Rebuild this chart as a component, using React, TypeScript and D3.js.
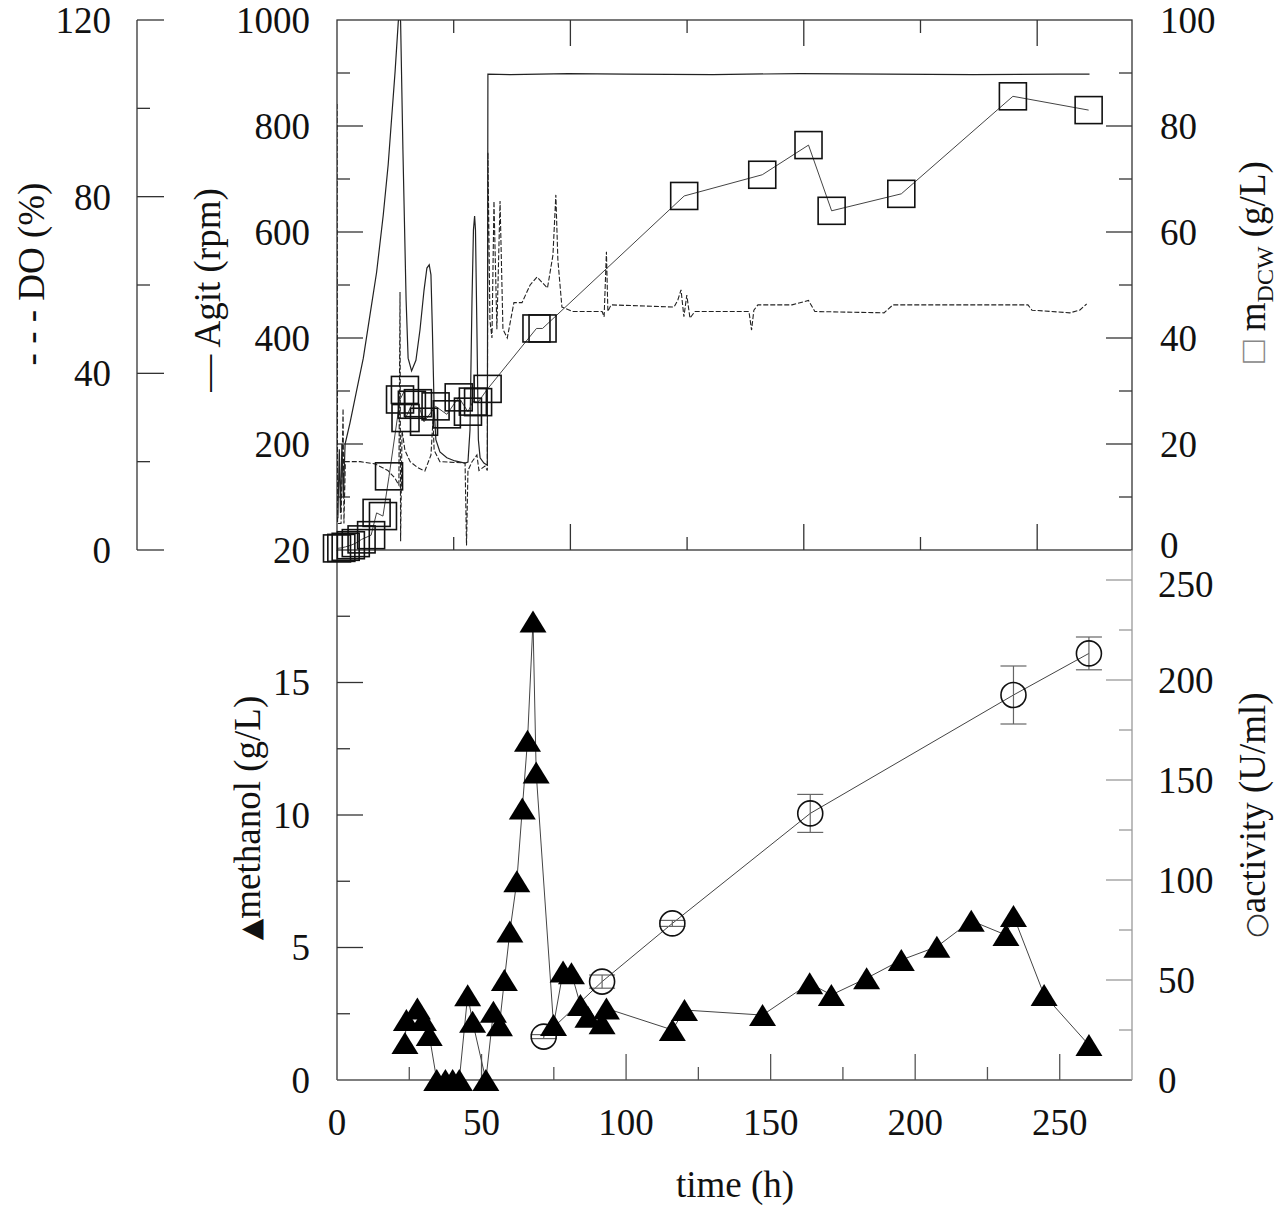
import React from 'react';
import * as d3 from 'd3';

// ---------------- DATA ----------------
// tick values
const xLabels = [0, 50, 100, 150, 200, 250];
const xMinor = [25, 75, 125, 175, 225, 275];
const topMajor = [80, 160, 240];
const topMinor = [40, 120, 200];
const doLabels = [0, 40, 80, 120];
const doMinor = [20, 60, 100];
const agitLabels = [200, 400, 600, 800, 1000];
const agitMinor = [100, 300, 500, 700, 900];
const dcwLabels = [0, 20, 40, 60, 80, 100];
const dcwMinor = [10, 30, 50, 70, 90];
const methLabels = [0, 5, 10, 15, 20];
const methMinor = [2.5, 7.5, 12.5, 17.5];
const actLabels = [0, 50, 100, 150, 200, 250];
const actMinor = [25, 75, 125, 175, 225];

// agitation (rpm), solid line
const agitTime = [0.3, 0.8, 1.2, 1.7, 2.2, 2.8, 4.5, 6.8, 9.1, 11.4, 13.7, 16, 17.7, 18.9, 20.1, 21.2, 21.6, 22, 22.8, 23.9, 24.6, 25.8, 27.3, 28.7, 30.1, 31.1, 31.9, 32.5, 33, 33.6, 34.2, 35.6, 38, 40.8, 44.3, 45.3, 46, 46.7, 47.2, 47.6, 47.9, 48.4, 48.9, 49.5, 50.8, 52.0, 52.2, 60, 80, 100, 130, 160, 190, 220, 250, 260.3];
const agitValue = [60, 190, 70, 200, 100, 200, 240, 301, 362, 443, 524, 632, 727, 815, 903, 997, 1010, 997, 755, 472, 362, 338, 358, 415, 490, 532, 538, 519, 415, 268, 208, 185, 174, 168, 164, 166, 226, 472, 604, 630, 604, 415, 208, 174, 164, 160, 898, 897, 899, 898, 897, 899, 898, 897, 898, 898];

// dissolved oxygen (%), dashed line
const doTime = [0, 0.2, 1.4, 2.1, 2.4, 2.9, 8, 13.1, 17.6, 20, 21.4, 21.8, 22, 22.5, 23.5, 25.3, 28, 30.4, 32.5, 33.2, 33.6, 35.6, 44.3, 44.8, 45.3, 46.7, 48.4, 49.1, 51.2, 52.0, 52.2, 52.9, 53.6, 54.3, 55.3, 56.4, 57.4, 58.9, 61.2, 64, 66.8, 69.2, 72.8, 74.7, 75.7, 76.4, 77.8, 81.6, 91.7, 92.4, 93.2, 93.7, 94.8, 116.6, 117.9, 119, 120, 121, 122.1, 123.8, 142.5, 143.4, 144.2, 145.6, 157.4, 163.1, 165.3, 189.2, 192.3, 239, 240.4, 253.5, 256.9, 259.3];
const doValue = [101, 6, 6, 32, 6, 20, 20, 19.5, 18, 16.3, 14.7, 58.4, 2, 27, 22.6, 20, 18.6, 17.9, 21.5, 29.4, 22.6, 20, 19.7, 1, 18, 20, 21.5, 18, 19, 18, 90, 52, 48, 79, 50, 79, 50, 48, 56, 56, 60, 61.8, 59.3, 66.8, 80.4, 65.7, 55, 54, 54, 52.8, 67.5, 54, 55.5, 55, 56.6, 58.9, 52.8, 57.7, 52.5, 54, 54, 49.8, 54.3, 55.5, 55.5, 56.5, 54, 53.7, 55.5, 55.5, 54.3, 53.7, 54.3, 55.7];

// dry cell weight (g/L), squares
const dcwTime = [0, 1.5, 3, 4.8, 6.5, 8.5, 11.8, 13.7, 15.9, 18, 21.8, 23.5, 23.7, 25.9, 28, 30.1, 34.1, 38, 42.1, 45.3, 47, 48.8, 52.1, 69, 71.1, 120.1, 147.1, 163.1, 171.1, 195.2, 233.8, 260];
const dcwValue = [0.3, 0.4, 0.6, 0.9, 1.3, 2.0, 2.8, 7.0, 6.4, 13.9, 28.4, 30.2, 24.9, 27.4, 27.7, 24.2, 27.1, 25.6, 28.8, 26.1, 28.0, 27.9, 30.4, 41.8, 41.8, 66.8, 70.8, 76.4, 64.0, 67.2, 85.6, 83.0];

// methanol (g/L), filled triangles
const methTime = [23.5, 24, 27.8, 29.9, 31.9, 34.5, 37.5, 40, 42.3, 45.2, 46.9, 51.5, 54.1, 56.2, 57.9, 59.8, 62.2, 64.1, 65.9, 67.8, 68.9, 74.9, 78.2, 81.1, 84.2, 86.8, 91.7, 93.2, 116, 120.2, 147.2, 163.5, 171, 183.2, 195.2, 207.5, 219.4, 231.4, 234, 244.6, 260.1];
const methValue = [1.4, 2.26, 2.7, 2.26, 1.7, 0, 0, 0, 0, 3.2, 2.2, 0, 2.58, 2.07, 3.77, 5.6, 7.5, 10.25, 12.8, 17.3, 11.6, 2.08, 4.09, 4.03, 2.83, 2.39, 2.14, 2.7, 1.89, 2.64, 2.45, 3.65, 3.21, 3.84, 4.53, 5.03, 6.01, 5.47, 6.19, 3.21, 1.32];

// activity (U/ml), open circles with error bars
const actTime = [71.5, 91.7, 116, 163.7, 234, 260.1];
const actValue = [21.7, 49.2, 78.3, 133.3, 192.5, 213.3];
const actError = [1, 3.3, 1.5, 9.5, 14.5, 8.2];

// ---------------- LAYOUT ----------------
const W = 1280;
const H = 1215;
const X0 = 337;
const X1 = 1132;
const TY0 = 20;
const TY1 = 550;
const BY0 = 550;
const BY1 = 1080;
const DOX = 137;
const MAJ = 26;
const MIN = 13;
const FONT = "'Liberation Serif', 'Times New Roman', Times, serif";
const FS = 37;
const AX = '#333';
const AXL = '#9a9a9a';
const LINE = '#444';

const xScale = d3.scaleLinear().domain([0, 275]).range([X0, X1]);
const xTopTick = d3.scaleLinear().domain([0, 272.5]).range([X0, X1]);
const agitY = d3.scaleLinear().domain([0, 1000]).range([TY1, TY0]);
const doY = d3.scaleLinear().domain([0, 120]).range([TY1, TY0]);
const dcwY = d3.scaleLinear().domain([0, 100]).range([TY1, TY0]);
const methY = d3.scaleLinear().domain([0, 20]).range([BY1, BY0]);
const actY = d3.scaleLinear().domain([0, 265]).range([BY1, BY0]);

function pathOf(ts: number[], vs: number[], sy: d3.ScaleLinear<number, number>) {
  const pts = d3.zip(ts, vs) as [number, number][];
  return d3
    .line<[number, number]>()
    .x((d) => xScale(d[0]))
    .y((d) => sy(d[1]))(pts) || '';
}

function VTicks({ x, vals, sy, len, dir, color }: any) {
  return (
    <g>
      {vals.map((v: number, i: number) => (
        <line key={i} x1={x} x2={x + dir * len} y1={sy(v)} y2={sy(v)} stroke={color} strokeWidth={1.3} />
      ))}
    </g>
  );
}

function HTicks({ y, vals, sx, len, dir, color }: any) {
  return (
    <g>
      {vals.map((v: number, i: number) => (
        <line key={i} x1={sx(v)} x2={sx(v)} y1={y} y2={y + dir * len} stroke={color} strokeWidth={1.3} />
      ))}
    </g>
  );
}

function VLabels({ x, vals, sy, anchor, shift }: any) {
  return (
    <g>
      {vals.map((v: number, i: number) => (
        <text
          key={i}
          x={x}
          y={sy(v) + (shift && shift[v] ? shift[v] : 0)}
          dy="0.35em"
          textAnchor={anchor}
          fontFamily={FONT}
          fontSize={FS}
          fill="#111"
        >
          {v}
        </text>
      ))}
    </g>
  );
}

export default function App() {
  const agitPath = pathOf(agitTime, agitValue, agitY);
  const doPath = pathOf(doTime, doValue, doY);
  const dcwPath = pathOf(dcwTime, dcwValue, dcwY);
  const methPath = pathOf(methTime, methValue, methY);
  const actPath = pathOf(actTime, actValue, actY);
  const SQ = 27;
  const TW = 13.5;
  const TH = 11;

  return (
    <svg width={W} height={H} style={{ position: 'absolute', left: 0, top: 0, background: '#fff' }}>
      <defs>
        <clipPath id="topClip">
          <rect x={X0} y={TY0} width={X1 - X0} height={TY1 - TY0} />
        </clipPath>
      </defs>
      <rect x={0} y={0} width={W} height={H} fill="#fff" />

      {/* ---------- top panel frame ---------- */}
      <rect x={X0} y={TY0} width={X1 - X0} height={TY1 - TY0} fill="none" stroke={AX} strokeWidth={1.3} />
      {/* DO axis */}
      <line x1={DOX} x2={DOX} y1={TY0} y2={TY1} stroke={AX} strokeWidth={1.3} />
      <VTicks x={DOX} vals={doLabels} sy={doY} len={MAJ + 1} dir={1} color={AX} />
      <VTicks x={DOX} vals={doMinor} sy={doY} len={MIN} dir={1} color={AX} />
      <VLabels x={111} vals={doLabels} sy={doY} anchor="end" />
      {/* Agit axis */}
      <VTicks x={X0} vals={agitLabels.filter((v) => v < 1000)} sy={agitY} len={MAJ} dir={1} color={AX} />
      <VTicks x={X0} vals={agitMinor} sy={agitY} len={MIN} dir={1} color={AX} />
      <VLabels x={310} vals={agitLabels} sy={agitY} anchor="end" />
      {/* dcw axis */}
      <VTicks x={X1} vals={dcwLabels.filter((v) => v > 0 && v < 100)} sy={dcwY} len={MAJ} dir={-1} color={AX} />
      <VTicks x={X1} vals={dcwMinor} sy={dcwY} len={MIN} dir={-1} color={AX} />
      <VLabels x={1160} vals={dcwLabels} sy={dcwY} anchor="start" shift={{ 0: -5 }} />
      {/* top x ticks */}
      <HTicks y={TY0} vals={topMajor} sx={xTopTick} len={MAJ} dir={1} color={AX} />
      <HTicks y={TY0} vals={topMinor} sx={xTopTick} len={MIN} dir={1} color={AX} />
      <HTicks y={TY1} vals={topMajor} sx={xTopTick} len={MAJ} dir={-1} color={AX} />
      <HTicks y={TY1} vals={topMinor} sx={xTopTick} len={MIN} dir={-1} color={AX} />

      {/* ---------- bottom panel frame ---------- */}
      <line x1={X0} x2={X0} y1={BY0} y2={BY1} stroke={AX} strokeWidth={1.3} />
      <line x1={X0} x2={X1} y1={BY1} y2={BY1} stroke="#555" strokeWidth={1.3} />
      <line x1={X1} x2={X1} y1={BY0} y2={BY1} stroke={AXL} strokeWidth={1.3} />
      <VTicks x={X0} vals={methLabels.filter((v) => v > 0 && v < 20)} sy={methY} len={MAJ} dir={1} color={AX} />
      <VTicks x={X0} vals={methMinor} sy={methY} len={MIN} dir={1} color={AX} />
      <VLabels x={310} vals={methLabels} sy={methY} anchor="end" />
      <VTicks x={X1} vals={actLabels.filter((v) => v > 0)} sy={actY} len={MAJ} dir={-1} color={AXL} />
      <VTicks x={X1} vals={actMinor} sy={actY} len={MIN} dir={-1} color={AXL} />
      <VLabels x={1158} vals={actLabels} sy={actY} anchor="start" shift={{ 250: 4 }} />
      <HTicks y={BY1} vals={xLabels.filter((v) => v > 0)} sx={xScale} len={MAJ} dir={-1} color="#555" />
      <HTicks y={BY1} vals={xMinor.filter((v) => v < 275)} sx={xScale} len={MIN} dir={-1} color="#555" />
      {xLabels.map((v, i) => (
        <text key={i} x={xScale(v)} y={1122} dy="0.35em" textAnchor="middle" fontFamily={FONT} fontSize={FS} fill="#111">
          {v}
        </text>
      ))}

      {/* ---------- axis titles ---------- */}
      <text transform="translate(31,274) rotate(-90)" dy="0.35em" textAnchor="middle" fontFamily={FONT} fontSize={FS} fill="#111">
        - - - DO (%)
      </text>
      <text transform="translate(207,290) rotate(-90)" dy="0.35em" textAnchor="middle" fontFamily={FONT} fontSize={FS} fill="#111">
        — Agit (rpm)
      </text>
      <text transform="translate(1252,262) rotate(-90)" dy="0.35em" textAnchor="middle" fontFamily={FONT} fontSize={FS} fill="#111">
        <tspan fill="#888">□</tspan>
        <tspan> m</tspan>
        <tspan fontSize={24} dy="8">DCW</tspan>
        <tspan dy="-8"> (g/L)</tspan>
      </text>
      <text transform="translate(247,818) rotate(-90)" dy="0.35em" textAnchor="middle" fontFamily={FONT} fontSize={FS} fill="#111">
        <tspan fontFamily="'DejaVu Sans', sans-serif" fontSize={28}>▲</tspan>
        <tspan>methanol (g/L)</tspan>
      </text>
      <text transform="translate(1252,815) rotate(-90)" dy="0.35em" textAnchor="middle" fontFamily={FONT} fontSize={FS} fill="#111">
        <tspan fontFamily="'DejaVu Sans', sans-serif" fontSize={28} fill="#333">○</tspan>
        <tspan>activity (U/ml)</tspan>
      </text>
      <text x={735} y={1184} dy="0.35em" textAnchor="middle" fontFamily={FONT} fontSize={FS} fill="#111">
        time (h)
      </text>

      {/* ---------- top panel series ---------- */}
      <g clipPath="url(#topClip)">
        <path d={doPath} fill="none" stroke="#222" strokeWidth={1.1} strokeDasharray="5,2" />
        <path d={agitPath} fill="none" stroke="#222" strokeWidth={1.2} />
      </g>
      <path d={dcwPath} fill="none" stroke={LINE} strokeWidth={1} />
      {dcwTime.map((t, i) => (
        <rect
          key={i}
          x={xScale(t) - SQ / 2}
          y={dcwY(dcwValue[i]) - SQ / 2}
          width={SQ}
          height={SQ}
          fill="none"
          stroke="#111"
          strokeWidth={1.6}
        />
      ))}

      {/* ---------- bottom panel series ---------- */}
      <path d={actPath} fill="none" stroke={LINE} strokeWidth={1} />
      <path d={methPath} fill="none" stroke={LINE} strokeWidth={1} />
      {actTime.map((t, i) => {
        const cx = xScale(t);
        const yT = actY(actValue[i] + actError[i]);
        const yB = actY(actValue[i] - actError[i]);
        return (
          <g key={i} stroke="#666" strokeWidth={1.2}>
            <line x1={cx} x2={cx} y1={yT} y2={yB} />
            <line x1={cx - 13} x2={cx + 13} y1={yT} y2={yT} />
            <line x1={cx - 13} x2={cx + 13} y1={yB} y2={yB} />
          </g>
        );
      })}
      {actTime.map((t, i) => (
        <circle key={i} cx={xScale(t)} cy={actY(actValue[i])} r={12.5} fill="none" stroke="#111" strokeWidth={1.6} />
      ))}
      {methTime.map((t, i) => {
        const cx = xScale(t);
        const cy = methY(methValue[i]);
        return (
          <path
            key={i}
            d={`M${cx},${cy - TH} L${cx + TW},${cy + TH} L${cx - TW},${cy + TH} Z`}
            fill="#000"
          />
        );
      })}
    </svg>
  );
}
